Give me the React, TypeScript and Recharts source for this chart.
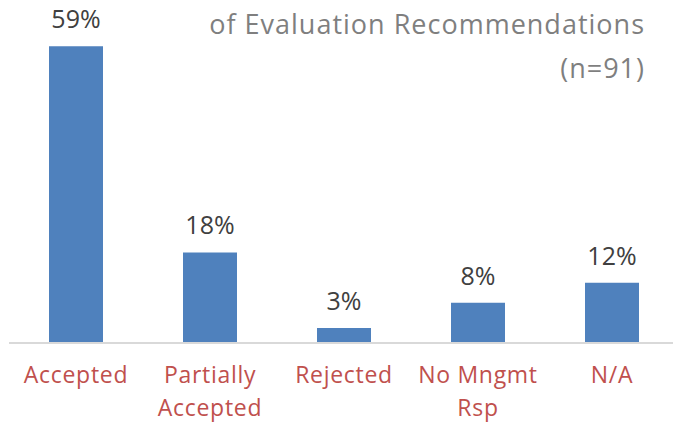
import { Bar, BarChart, LabelList, XAxis, YAxis } from 'recharts';

const categories = ['Accepted', 'Partially\nAccepted', 'Rejected', 'No Mngmt\nRsp', 'N/A'];
const shares = [59, 18, 3, 8, 12];
const titleLines = ['of Evaluation Recommendations', '(n=91)'];

const data = categories.map((name, i) => ({ name, value: shares[i] }));

const FONT = '"Open Sans", Lato, sans-serif';

function CategoryTick({ x, y, payload }: any) {
  const lines = String(payload.value).split('\n');
  return (
    <text
      x={x}
      y={y}
      textAnchor="middle"
      fill="#c0504d"
      fontSize={23}
      letterSpacing={0.7}
      fontFamily={FONT}
    >
      {lines.map((line, i) => (
        <tspan key={i} x={x} dy={i === 0 ? 32 : 33}>
          {line}
        </tspan>
      ))}
    </text>
  );
}

export default function App() {
  return (
    <div
      style={{
        position: 'fixed',
        left: 0,
        top: 0,
        width: 673,
        height: 423,
        overflow: 'hidden',
        background: '#ffffff'
      }}
    >
      <BarChart
        width={680}
        height={423}
        data={data}
        margin={{ left: 9, right: 1, top: 0, bottom: 0 }}
      >
        <XAxis
          dataKey="name"
          height={80}
          interval={0}
          tickLine={false}
          axisLine={{ stroke: '#d9d9d9', strokeWidth: 2 }}
          tick={<CategoryTick />}
        />
        <YAxis hide domain={[0, 68.2]} />
        <Bar dataKey="value" fill="#4f81bd" barSize={54} isAnimationActive={false}>
          <LabelList
            dataKey="value"
            position="top"
            offset={18}
            formatter={(v: any) => `${v}%`}
            style={{ fill: '#404040', fontSize: 25, fontFamily: FONT }}
          />
        </Bar>
      </BarChart>
      <div
        style={{
          position: 'absolute',
          right: 28,
          top: 2,
          textAlign: 'right',
          color: '#7f7f7f',
          fontFamily: FONT,
          fontSize: 27,
          lineHeight: '44px',
          letterSpacing: 1
        }}
      >
        {titleLines.map((t) => (
          <div key={t}>{t}</div>
        ))}
      </div>
    </div>
  );
}
